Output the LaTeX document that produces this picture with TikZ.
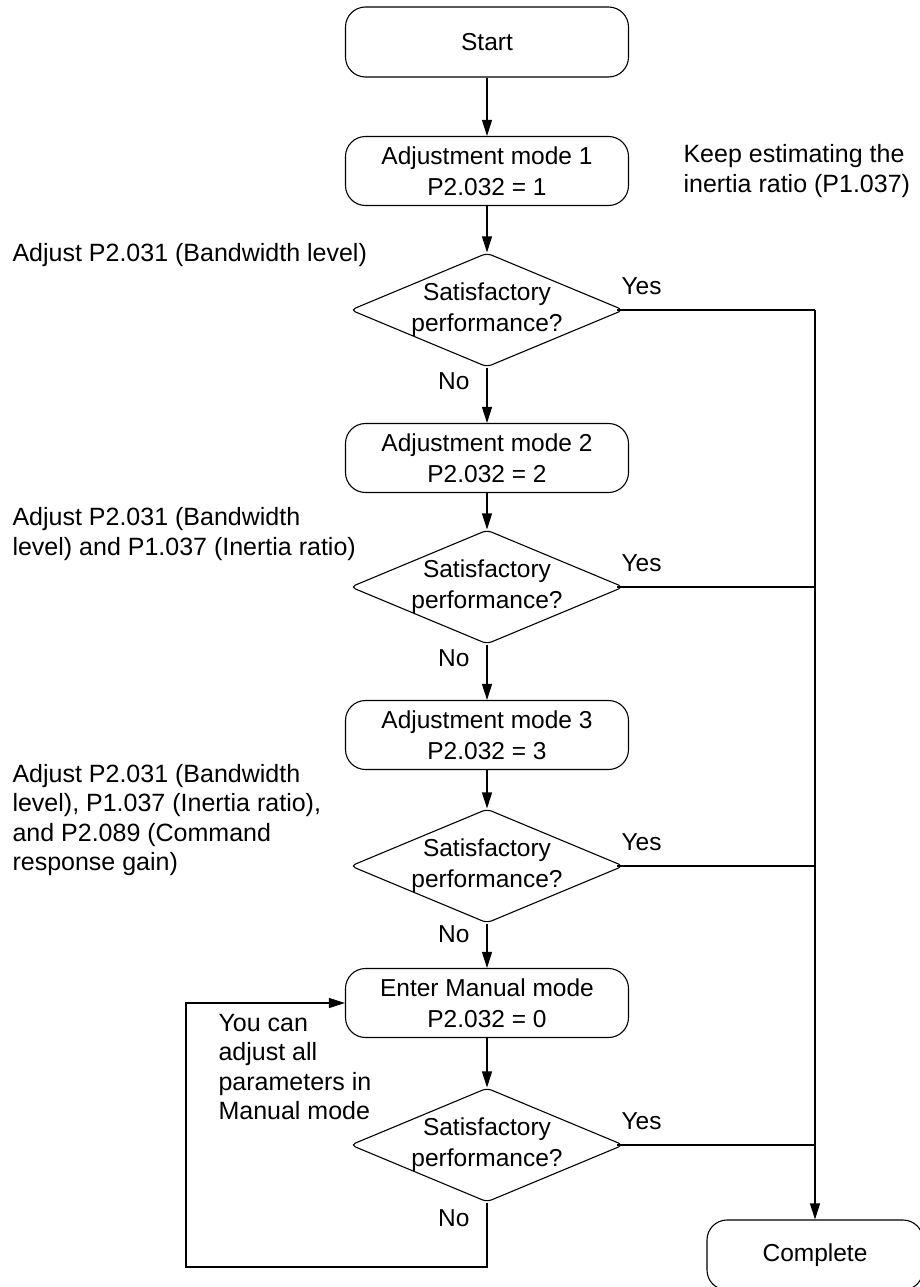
\documentclass[tikz,border=0pt]{standalone}
\usepackage{fontspec}
\setmainfont{Liberation Sans}
\usetikzlibrary{shapes.geometric,arrows.meta}

\tikzset{
  stepbox/.style={draw, rounded corners=20pt, minimum width=283pt, minimum height=69pt,
    align=center, font=\fontsize{24.5}{31}\selectfont},
  decision/.style={draw, shape=diamond, aspect=2.27, minimum width=273pt, minimum height=114pt,
    inner xsep=0pt, inner ysep=-20pt, rounded corners=5pt, align=center,
    font=\fontsize{24.5}{31}\selectfont},
  note/.style={anchor=west, align=left, inner sep=0pt, font=\fontsize{25}{29.5}\selectfont},
  arr/.style={-{Triangle[length=16pt,width=10pt]}},
  no/.style={left, pos=0.25, inner sep=0pt, xshift=-17pt},
  yes/.style={pos=0, anchor=south west, inner sep=0pt, xshift=4pt, yshift=15pt},
}

\begin{document}
\begin{tikzpicture}[x=1pt, y=-1pt, line width=1.1pt, font=\fontsize{24.5}{29.5}\selectfont]
  \useasboundingbox (0,0) rectangle (920,1287);

  % main column
  \node[stepbox, minimum height=70pt] (start) at (487,42) {Start};
  \node[stepbox] (mode1) at (487,171) {Adjustment mode 1\\P2.032 = 1};
  \node[decision] (dec1) at (487,310) {Satisfactory\\performance?};
  \node[stepbox] (mode2) at (487,458) {Adjustment mode 2\\P2.032 = 2};
  \node[decision] (dec2) at (487,587) {Satisfactory\\performance?};
  \node[stepbox] (mode3) at (487,735) {Adjustment mode 3\\P2.032 = 3};
  \node[decision] (dec3) at (487,866) {Satisfactory\\performance?};
  \node[stepbox] (manual) at (487,1003) {Enter Manual mode\\P2.032 = 0};
  \node[decision] (dec4) at (487,1145) {Satisfactory\\performance?};
  \node[stepbox, minimum width=216pt, minimum height=70pt] (done) at (815,1255) {Complete};
  \coordinate (back) at (186,1267);

  % side notes
  \node[note] (keep) at (683,171) {Keep estimating the\\inertia ratio (P1.037)};
  \node[note] (adj1) at (12,255) {Adjust P2.031 (Bandwidth level)};
  \node[note] (adj2) at (12,534) {Adjust P2.031 (Bandwidth\\level) and P1.037 (Inertia ratio)};
  \node[note] (adj3) at (12,820) {Adjust P2.031 (Bandwidth\\level), P1.037 (Inertia ratio),\\and P2.089 (Command\\response gain)};
  \node[note] (hint) at (218,1067) {You can\\adjust all\\parameters in\\Manual mode};

  % flow down
  \draw[arr] (start) -- (mode1);
  \draw[arr] (mode1) -- (dec1);
  \draw[arr] (dec1) -- node[no] {No} (mode2);
  \draw[arr] (mode2) -- (dec2);
  \draw[arr] (dec2) -- node[no] {No} (mode3);
  \draw[arr] (mode3) -- (dec3);
  \draw[arr] (dec3) -- node[no] {No} (manual);
  \draw[arr] (manual) -- (dec4);
  \draw[arr] (dec4) -- node[no] {No} (dec4.south |- back) -- (back) |- (manual);

  % yes branches
  \draw ([xshift=-7pt]dec1.east) -- node[yes] {Yes} (dec1.east -| done.north);
  \draw ([xshift=-7pt]dec2.east) -- node[yes] {Yes} (dec2.east -| done.north);
  \draw ([xshift=-7pt]dec3.east) -- node[yes] {Yes} (dec3.east -| done.north);
  \draw ([xshift=-7pt]dec4.east) -- node[yes] {Yes} (dec4.east -| done.north);
  \draw[arr] (dec1.east -| done.north) -- (done);
\end{tikzpicture}
\end{document}
